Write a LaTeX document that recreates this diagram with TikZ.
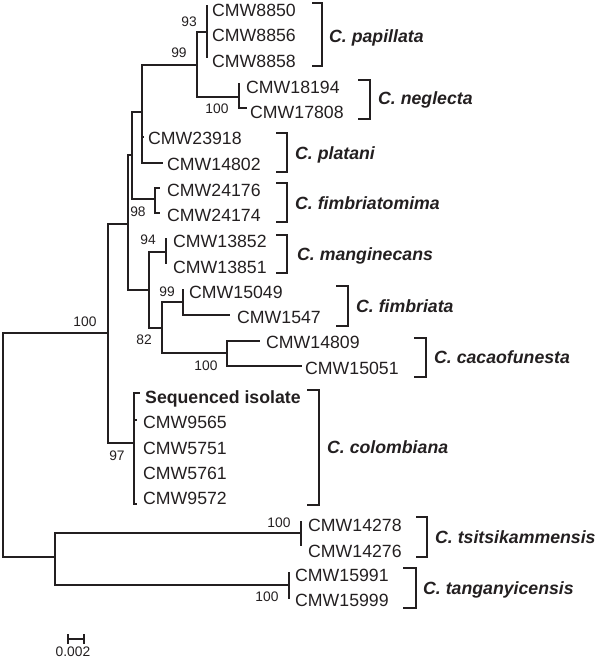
\documentclass[tikz,border=0pt]{standalone}
\usepackage{fontspec}
\setmainfont{Liberation Sans}
\definecolor{ink}{HTML}{231F20}
\begin{document}
\begin{tikzpicture}[x=1pt,y=-1pt,
  branch/.style={draw=ink, line width=2.6pt, line join=miter},
  brk/.style={draw=ink, line width=2.8pt, line join=miter},
  leaf/.style={anchor=west, inner sep=0pt, text=ink, font=\fontsize{17.7}{20}\selectfont, text height=12.2pt, text depth=0pt},
  species/.style={anchor=west, inner sep=0pt, text=ink, font=\fontsize{17.7}{20}\selectfont\bfseries\itshape, text height=12.2pt, text depth=0pt},
  boot/.style={anchor=center, inner sep=0pt, text=ink, font=\fontsize{13.8}{16}\selectfont, text height=9.7pt, text depth=0pt}]
\useasboundingbox (0,0) rectangle (597,661);
% internal nodes
\coordinate (R) at (3,445);
\coordinate (A) at (108,333);
\coordinate (B) at (128,224);
\coordinate (C) at (132,155);
\coordinate (D) at (149,290);
\coordinate (E) at (142,112);
\coordinate (F) at (197,65);
\coordinate (PAP) at (207,32);
\coordinate (NEG) at (239,97);
\coordinate (FIM) at (155,199);
\coordinate (MAN) at (166,252);
\coordinate (G) at (162,328);
\coordinate (FIMB) at (183,302);
\coordinate (CAC) at (227,353);
\coordinate (COL) at (134,443);
\coordinate (OUT) at (55,557);
\coordinate (TSI) at (301,533);
\coordinate (TAN) at (289,585);
% leaf tips
\coordinate (t8850) at (207,5);
\coordinate (t8856) at (207,32);
\coordinate (t8858) at (207,58);
\coordinate (t18194) at (239,83);
\coordinate (t17808) at (247,108);
\coordinate (t23918) at (144,137);
\coordinate (t14802) at (163,163);
\coordinate (t24176) at (160,188);
\coordinate (t24174) at (160,213);
\coordinate (t13852) at (166,238);
\coordinate (t13851) at (166,264);
\coordinate (t15049) at (183,289);
\coordinate (t1547) at (230,315);
\coordinate (t14809) at (260,341);
\coordinate (t15051) at (302,366);
\coordinate (tSeq) at (140,393);
\coordinate (t9565) at (137,420);
\coordinate (t5751) at (134,446);
\coordinate (t5761) at (134,472);
\coordinate (t9572) at (137,504);
\coordinate (t14278) at (301,521);
\coordinate (t14276) at (301,546);
\coordinate (t15991) at (289,572);
\coordinate (t15999) at (289,599);
% branches
\foreach \p/\c in {R/A, R/OUT, A/B, A/COL, B/C, B/D, C/E, C/FIM, E/F, E/t23918, E/t14802,
  F/PAP, F/NEG, PAP/t8850, PAP/t8856, PAP/t8858, NEG/t18194, NEG/t17808,
  FIM/t24176, FIM/t24174, D/MAN, D/G, MAN/t13852, MAN/t13851, G/FIMB, G/CAC,
  FIMB/t15049, FIMB/t1547, CAC/t14809, CAC/t15051,
  COL/tSeq, COL/t9565, COL/t5751, COL/t5761, COL/t9572,
  OUT/TSI, OUT/TAN, TSI/t14278, TSI/t14276, TAN/t15991, TAN/t15999}
  \draw[branch] (\p) |- (\c);
% leaf labels
\node[leaf] (l8850) at (212,10) {CMW8850};
\node[leaf] (l8856) at (212,35) {CMW8856};
\node[leaf] (l8858) at (212,61) {CMW8858};
\node[leaf] (l18194) at (246,87) {CMW18194};
\node[leaf] (l17808) at (250,112) {CMW17808};
\node[leaf] (l23918) at (148,138) {CMW23918};
\node[leaf] (l14802) at (167,164) {CMW14802};
\node[leaf] (l24176) at (167,190) {CMW24176};
\node[leaf] (l24174) at (167,215) {CMW24174};
\node[leaf] (l13852) at (173,241) {CMW13852};
\node[leaf] (l13851) at (173,267) {CMW13851};
\node[leaf] (l15049) at (189,292) {CMW15049};
\node[leaf] (l1547) at (237,317) {CMW1547};
\node[leaf] (l14809) at (266,342) {CMW14809};
\node[leaf] (l15051) at (305,368) {CMW15051};
\node[leaf, font=\fontsize{17.7}{20}\selectfont\bfseries] (lSeq) at (145,397) {Sequenced isolate};
\node[leaf] (l9565) at (143,422) {CMW9565};
\node[leaf] (l5751) at (143,448) {CMW5751};
\node[leaf] (l5761) at (143,473) {CMW5761};
\node[leaf] (l9572) at (143,498) {CMW9572};
\node[leaf] (l14278) at (308,525) {CMW14278};
\node[leaf] (l14276) at (308,551) {CMW14276};
\node[leaf] (l15991) at (295,575) {CMW15991};
\node[leaf] (l15999) at (295,600) {CMW15999};
% bootstrap values
\node[boot] (b93) at (189,22) {93};
\node[boot] (b99a) at (179,53) {99};
\node[boot] (b100n) at (217,109) {100};
\node[boot] (b98) at (138,212) {98};
\node[boot] (b94) at (148,240) {94};
\node[boot] (b99b) at (167,292) {99};
\node[boot] (b82) at (144,340) {82};
\node[boot] (b100c) at (206,366) {100};
\node[boot] (b100a) at (85,322) {100};
\node[boot] (b97) at (117,456) {97};
\node[boot] (b100t) at (279,523) {100};
\node[boot] (b100g) at (267,597) {100};
% species brackets
\foreach \xt/\xv/\yt/\yb/\xl/\yl/\nm in {
  312/322/3/66/329/36/papillata,
  358/370/80/119/378/98/neglecta,
  276/287/133/172/295/153/platani,
  276/287/183/222/295/203/fimbriatomima,
  276/287/235/273/297/254/manginecans,
  336/348/286/326/356/306/fimbriata,
  414/426/338/377/434/357/cacaofunesta,
  307/319/390/505/327/447/colombiana,
  416/427/517/557/435/537/tsitsikammensis,
  403/416/568/608/423/588/tanganyicensis}{
  \draw[brk] (\xt,\yt) -- (\xv,\yt) -- (\xv,\yb) -- (\xt,\yb);
  \node[species] (s\nm) at (\xl,\yl) {C. \nm};
}
% scale bar
\coordinate (sb1) at (68,639);
\coordinate (sb2) at (84,639);
\draw[branch] (sb1) -- (sb2);
\draw[branch] ([yshift=-5pt]sb1) -- ([yshift=5pt]sb1);
\draw[branch] ([yshift=-5pt]sb2) -- ([yshift=5pt]sb2);
\node[boot] (sbl) at (73,652) {0.002};
\end{tikzpicture}
\end{document}
